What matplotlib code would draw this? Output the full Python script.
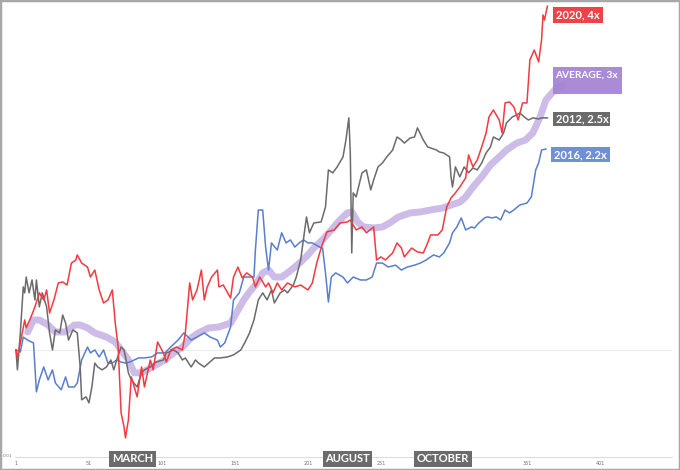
import matplotlib
matplotlib.use("Agg")
import matplotlib.pyplot as plt
from matplotlib.patches import Rectangle

# ---------------- data (day of year, multiple of start value) ----------------
red_days = [1, 2, 4, 7, 8, 11, 14, 17, 20, 22, 24, 27, 30, 33, 36, 39, 42, 43, 46, 50, 52, 55, 58, 61, 64, 67,
            69, 71, 73, 75, 76, 78, 80, 84, 87, 89, 93, 95, 98, 102, 104, 107, 111, 115, 117, 120, 122, 125,
            128, 130, 132, 135, 139, 140, 143, 146, 148, 150, 153, 156, 159, 163, 165, 168, 172, 174, 177,
            180, 183, 187, 192, 196, 201, 204, 207, 210, 214, 219, 223, 228, 230, 234, 238, 241, 246, 248,
            251, 254, 259, 262, 265, 267, 272, 276, 280, 283, 285, 290, 293, 296, 299, 302, 305, 309, 311,
            314, 317, 320, 323, 325, 328, 332, 334, 336, 339, 342, 345, 348, 351, 353, 356, 359, 361, 362,
            363, 365]
red_vals = [1.00, 0.968, 1.029, 1.130, 1.094, 1.139, 1.192, 1.262, 1.226, 1.277, 1.163, 1.226, 1.314, 1.319,
            1.303, 1.425, 1.443, 1.473, 1.425, 1.402, 1.346, 1.385, 1.277, 1.211, 1.226, 1.277,
            1.116, 1.012, 0.774, 0.731, 0.699, 0.752, 0.896, 0.826, 0.933, 0.860, 0.960, 0.922, 1.033,
            0.988, 0.952, 1.00, 1.012, 1.00, 1.072, 1.314, 1.226, 1.277,
            1.385, 1.226, 1.293, 1.346, 1.385, 1.293, 1.303, 1.262, 1.236, 1.346, 1.402, 1.341, 1.369,
            1.346, 1.293, 1.346, 1.293, 1.314, 1.262,
            1.314, 1.277, 1.314, 1.293, 1.303, 1.277, 1.314, 1.425, 1.515, 1.618, 1.631, 1.678, 1.685,
            1.699, 1.631, 1.651, 1.612, 1.651, 1.443,
            1.461, 1.443, 1.485, 1.547, 1.515, 1.461, 1.515, 1.491, 1.485, 1.547, 1.598, 1.598, 1.631,
            1.790, 1.858, 1.897, 1.943, 2.016, 2.214,
            2.109, 2.170, 2.287, 2.422, 2.585, 2.660, 2.553, 2.422, 2.737, 2.748, 2.693, 2.553, 2.737,
            2.737, 3.262, 3.396, 3.235, 3.538, 3.917,
            3.838, 4.06]

gray_days = [1, 2, 4, 6, 7, 8, 10, 12, 14, 15, 17, 19, 22, 24, 26, 28, 31, 33, 35, 37, 40, 43, 45, 46, 49,
             51, 53, 55, 57, 60, 63, 66, 68, 70, 73, 75, 76, 78, 80, 84, 87, 89, 93, 97, 102, 104, 109,
             112, 115, 117, 121, 124, 126, 130, 133, 137, 141, 146, 150, 155, 158, 161, 164, 167, 170,
             173, 176, 178, 182, 185, 187, 191, 193, 196, 200, 202, 205, 210, 213, 215, 218, 221, 225,
             227, 229, 230, 231, 232, 234, 238, 241, 244, 246, 249, 252, 255, 259, 262, 265, 267, 271,
             274, 276, 280, 283, 285, 289, 291, 294, 298, 299, 300, 302, 305, 308, 311, 314, 317, 320,
             323, 326, 328, 332, 335, 337, 341, 344, 346, 350, 352, 355, 359, 361, 365]
gray_vals = [1.00, 0.922, 1.072, 1.293, 1.262, 1.346, 1.262, 1.330, 1.226, 1.330, 1.192, 1.262, 1.192,
             1.072, 1.00, 1.085, 1.072, 1.153, 1.116, 1.041, 1.085, 1.072, 0.933, 0.816, 0.826,
             0.806, 0.860, 0.948, 0.933, 0.922, 0.933, 0.960, 0.922, 0.960, 1.012, 1.00, 0.972, 0.911,
             0.885, 0.860, 0.911, 0.922, 0.933, 0.952, 0.960, 0.988, 1.00,
             0.988, 0.960, 0.968, 0.933, 0.960, 0.948, 0.933, 0.948, 0.968, 0.968, 0.972, 0.980, 1.00,
             1.033, 1.072, 1.130, 1.226, 1.262,
             1.226, 1.277, 1.211, 1.262, 1.277, 1.262, 1.303, 1.346, 1.443, 1.720, 1.612, 1.678, 1.685,
             1.790, 2.083, 2.058, 2.109, 2.196,
             2.353, 2.575, 2.232, 1.485, 1.897, 1.866, 2.058, 2.083, 1.920, 2.000, 2.109, 2.143, 2.196,
             2.259, 2.382, 2.353, 2.324, 2.372,
             2.382, 2.472, 2.353, 2.287, 2.278, 2.259, 2.241, 2.232, 2.196, 2.025, 1.943, 2.109, 2.025,
             2.109, 2.058, 2.100, 2.083, 2.143,
             2.232, 2.287, 2.382, 2.353, 2.422, 2.523, 2.585, 2.606, 2.627, 2.575, 2.553, 2.575, 2.564,
             2.575, 2.575]

blue_days = [1, 4, 6, 9, 13, 14, 15, 17, 20, 23, 26, 28, 32, 35, 37, 41, 43, 46, 50, 52, 55, 58, 61, 64,
             67, 70, 73, 76, 79, 82, 85, 89, 94, 98, 103, 107, 112, 116, 121, 125, 130, 134, 139, 141,
             144, 148, 150, 154, 157, 161, 164, 165, 167, 170, 172, 174, 176, 180, 183, 186, 189, 192,
             195, 198, 201, 204, 209, 211, 213, 215, 217, 220, 225, 228, 232, 237, 241, 245, 248, 252,
             256, 261, 265, 269, 274, 278, 282, 287, 291, 294, 298, 300, 303, 306, 309, 313, 315, 318,
             322, 324, 327, 330, 333, 336, 339, 342, 346, 351, 354, 357, 359, 361, 364]
blue_vals = [1.00, 0.992, 1.054, 1.041, 1.029, 0.933, 0.843, 0.885, 0.933, 0.885, 0.922, 0.874, 0.850,
             0.896, 0.860, 0.860, 0.874, 0.960, 1.012, 0.988, 1.00, 0.972, 1.00, 0.948,
             0.948, 0.960, 0.952, 0.948, 0.952, 0.960, 0.968, 0.968, 0.972, 0.988, 0.988, 1.012, 1.041,
             1.072, 1.041, 1.054, 1.072, 1.054, 1.041, 1.012,
             1.029, 1.098, 1.226, 1.262, 1.346, 1.346, 1.346, 1.503, 1.769, 1.769, 1.521, 1.385, 1.547,
             1.503, 1.612, 1.547, 1.566, 1.521,
             1.547, 1.566, 1.547, 1.547, 1.521, 1.515, 1.369, 1.216, 1.346, 1.369, 1.346, 1.314, 1.346,
             1.330, 1.330, 1.346, 1.425, 1.425,
             1.402, 1.413, 1.385, 1.402, 1.413, 1.425, 1.443, 1.473, 1.461, 1.485, 1.547, 1.612, 1.651,
             1.713, 1.631, 1.651, 1.644, 1.678,
             1.713, 1.720, 1.713, 1.720, 1.699, 1.769, 1.748, 1.769, 1.805, 1.820, 1.866, 2.083, 2.143,
             2.259, 2.268]

avg_days = [9, 13, 17, 23, 28, 35, 41, 45, 50, 55, 63, 69, 73, 78, 82, 87, 93, 97, 103, 109, 115, 121,
            126, 133, 140, 148, 152, 157, 161, 165, 170, 174, 178, 183, 187, 192, 196, 201, 205, 211,
            217, 223, 228, 231, 235, 239, 246, 252, 257, 263, 271, 278, 285, 293, 299, 305, 309, 314,
            320, 326, 332, 337, 344, 350, 355, 360, 364, 370, 375]
avg_vals = [1.076, 1.130, 1.130, 1.107, 1.076, 1.076, 1.107, 1.107, 1.094, 1.072, 1.054, 1.033, 1.00,
            0.960, 0.911, 0.911, 0.929, 0.941, 0.960, 0.988, 1.012, 1.050,
            1.072, 1.094, 1.098, 1.116, 1.163, 1.226, 1.267, 1.303, 1.369, 1.385, 1.346, 1.346, 1.369,
            1.402, 1.431, 1.473, 1.515, 1.566,
            1.631, 1.699, 1.748, 1.755, 1.685, 1.651, 1.644, 1.651, 1.678, 1.720, 1.748, 1.755, 1.769,
            1.783, 1.805, 1.827, 1.866, 1.943,
            2.025, 2.125, 2.196, 2.259, 2.324, 2.353, 2.422, 2.585, 2.770, 2.886, 2.94]

x_ticks = [1, 51, 101, 151, 201, 251, 301, 351, 401]
month_labels = ["MARCH", "AUGUST", "OCTOBER"]
series_labels = ["2020, 4x", "AVERAGE, 3x", "2012, 2.5x", "2016, 2.2x"]

# ---------------- figure ----------------
W, H = 680, 470
fig = plt.figure(figsize=(W / 100, H / 100), dpi=100)
fig.patch.set_facecolor("white")

def fx(px):
    return px / W

def fy(py):
    return 1 - py / H

ax = fig.add_axes([fx(14.5), fy(457), fx(671.5) - fx(14.5), fy(3) - fy(457)])
ax.set_facecolor("none")
ax.set_yscale("log")
ax.set_xlim(0, 450)
ax.set_ylim(0.6464, 4.113)

RED = "#f23a40"
GRAY = "#6b6b6b"
BLUE = "#5a7ecb"
PURPLE_LINE = "#a584d6"
PURPLE_BOX = "#a98bd6"

ax.axhline(1.0, color="#ececec", lw=0.8, zorder=0.2)

ax.plot(avg_days, avg_vals, color=PURPLE_LINE, lw=5.0, alpha=0.55, solid_capstyle="round",
        solid_joinstyle="round", zorder=2)
ax.plot(blue_days, blue_vals, color=BLUE, lw=1.1, zorder=3)
ax.plot(gray_days, gray_vals, color=GRAY, lw=1.1, zorder=4)
ax.plot(red_days, red_vals, color=RED, lw=1.1, zorder=5)

# axes styling
for s in ["top", "right", "left"]:
    ax.spines[s].set_visible(False)
ax.spines["bottom"].set_color("#dcdcdc")
ax.spines["bottom"].set_linewidth(0.8)
ax.set_xticks(x_ticks)
ax.set_xticklabels([str(t) for t in x_ticks], fontsize=3.5, color="#707070")
ax.tick_params(axis="x", length=0, pad=3)
ax.set_yticks([])
ax.set_yticks([], minor=True)
ax.yaxis.set_minor_formatter(plt.NullFormatter())
fig.text(fx(8), fy(456), "0.01", fontsize=3.2, color="#808080", ha="center", va="center")

# month labels
month_x = [132.5, 347.5, 443]
for lab, px in zip(month_labels, month_x):
    fig.text(fx(px), fy(459), lab, ha="center", va="center", fontsize=8, fontweight="bold",
             color="white", family="Lato",
             bbox=dict(boxstyle="square,pad=0.22", fc="#6b6b6b", ec="none"))

# series label boxes (drawn beneath the lines)
box_specs = [
    (series_labels[0], 553, 7, 50, 16, "#f04248"),
    (series_labels[2], 553, 112, 57, 14, "#6b6b6b"),
    (series_labels[3], 551, 147, 59, 15, "#6f90d2"),
]
for lab, x0, y0, w, h, c in box_specs:
    ax.add_patch(Rectangle((fx(x0), fy(y0 + h)), fx(w), h / H, transform=fig.transFigure,
                           facecolor=c, edgecolor="none", clip_on=False, zorder=1))
    ax.text(fx(x0 + 3), fy(y0 + h / 2), lab, transform=fig.transFigure, ha="left", va="center",
            fontsize=8, fontweight="bold", color="white", family="Lato", zorder=1.5)

ax.add_patch(Rectangle((fx(553), fy(94)), fx(69), 27 / H, transform=fig.transFigure,
                       facecolor=PURPLE_BOX, edgecolor="none", clip_on=False, zorder=1))
ax.text(fx(555.5), fy(75), series_labels[1], transform=fig.transFigure, ha="left", va="center",
        fontsize=7.3, fontweight="bold", color="white", family="Lato", zorder=1.5)

# outer frame
fig.add_artist(Rectangle((0, 0), 1, 1, transform=fig.transFigure, fill=False,
                         edgecolor="#a8a8a8", lw=2.5))

fig.savefig("out.png", dpi=100)
